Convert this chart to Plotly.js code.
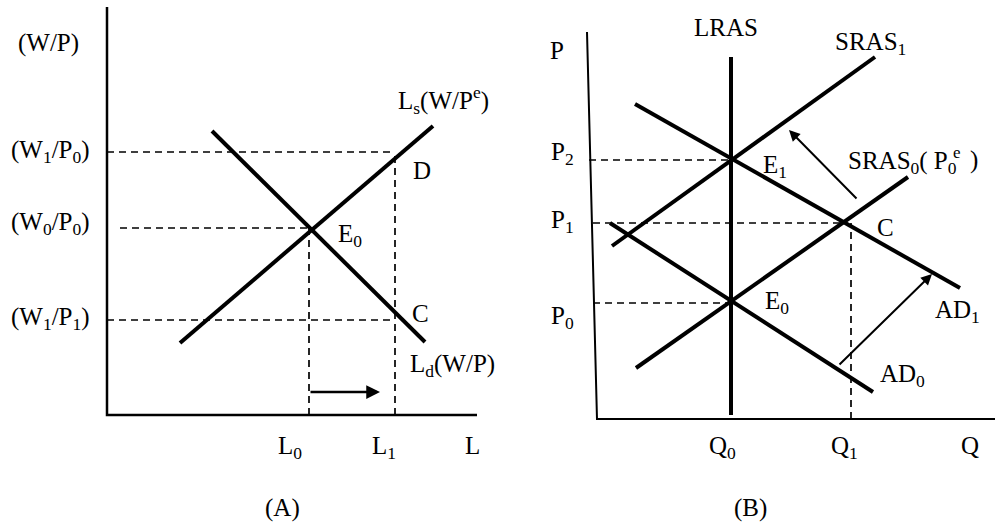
<!DOCTYPE html>
<html><head><meta charset="utf-8">
<script src="https://cdn.plot.ly/plotly-3.0.1.min.js"></script>
<style>html,body{margin:0;padding:0;background:#fff}</style>
</head><body><div id="chart" style="width:995px;height:523px"></div>
<script>
// ---------- Panel A: labour market (abstract diagram units) ----------
const aAxisX = [0, 0, 370];
const aAxisY = [408, 0, 0];
const aSupplyX = [73, 326];
const aSupplyY = [72, 289];
const aDemandX = [105, 318];
const aDemandY = [284, 73];
const aWageLevels = [263, 187, 95];      // (W1/P0), (W0/P0), (W1/P1)
const aWageFrom = [0, 13, 0];
const aWageTo = [288, 203, 288];
const aEmployment = [202, 288];          // L0, L1
const aEmployTop = [187, 263];
const aArrowX = [202, 273];
const aArrowY = [23, 23];
const aLabels = ["(W/P)", "(W<sub>1</sub>/P<sub>0</sub>)", "(W<sub>0</sub>/P<sub>0</sub>)", "(W<sub>1</sub>/P<sub>1</sub>)",
  "L<sub>s</sub>(W/P<sup>e</sup>)", "D", "E<sub>0</sub>", "C", "L<sub>d</sub>(W/P)",
  "L<sub>0</sub>", "L<sub>1</sub>", "L", "(A)"];
const aLabelX = [-59, -57, -57, -57, 336, 315, 243, 313, 345, 183, 277, 365, 175];
const aLabelY = [372, 264, 192, 97, 315, 245, 180, 102, 50, -32, -32, -30, -93];

// ---------- Panel B: AD-AS (abstract diagram units) ----------
const bAxisX = [-10, 0, 398];
const bAxisY = [387, 0, 0];
const bLRASX = [134, 134];
const bLRASY = [362, 4];
const bSRAS1X = [15, 278];
const bSRAS1Y = [173, 362];
const bSRAS0X = [39, 311];
const bSRAS0Y = [51, 242];
const bAD1X = [38, 363];
const bAD1Y = [315, 131];
const bAD0X = [13, 276];
const bAD0Y = [196, 27];
const bPriceLevels = [259, 196, 116];    // P2, P1, P0
const bPriceFrom = [-8, -4, -4];
const bPriceTo = [134, 246, 134];
const bQ1 = 254;
const bQ1Top = 196;
const bArrowSRASX = [261, 192];
const bArrowSRASY = [219, 289];
const bArrowADX = [241, 335];
const bArrowADY = [53, 145];
const bLabels = ["P", "P<sub>2</sub>", "P<sub>1</sub>", "P<sub>0</sub>", "LRAS", "SRAS<sub>1</sub>",
  "E<sub>1</sub>", "C", "E<sub>0</sub>", "AD<sub>1</sub>", "AD<sub>0</sub>",
  "Q<sub>0</sub>", "Q<sub>1</sub>", "Q", "(B)"];
const bLabelX = [-40, -35, -35, -35, 129, 273, 178, 288, 180, 360, 305, 125, 247, 373, 153];
const bLabelY = [369, 266, 198, 102, 392, 376, 253, 192, 117, 108, 44, -28, -28, -26, -89];
// SRAS0 label pieces: main text, closing bracket, stacked expectation superscript
const bSRAS0Label = ["SRAS<sub>0</sub>( P<sub>0</sub>", ")", "e"];
const bSRAS0LabelX = [249, 377, 360];
const bSRAS0LabelY = [257, 259, 267];

// ---------- build ----------
const FONT = "Liberation Serif, Times New Roman, serif";
const FS = 25;
function seg(xs, ys, xa, ya, width, dash) {
  return {x: xs, y: ys, xaxis: xa, yaxis: ya, mode: "lines", type: "scatter", hoverinfo: "skip",
    line: {color: "#000", width: width, dash: dash || "solid"}, showlegend: false};
}
function dashH(levels, from, to) {
  const xs = [], ys = [];
  levels.forEach((lv, i) => { xs.push(from[i], to[i], null); ys.push(lv, lv, null); });
  return [xs, ys];
}
function dashV(xsPos, tops) {
  const xs = [], ys = [];
  xsPos.forEach((xp, i) => { xs.push(xp, xp, null); ys.push(0, tops[i], null); });
  return [xs, ys];
}
const DASH = "7px,5px";
const aH = dashH(aWageLevels, aWageFrom, aWageTo);
const aV = dashV(aEmployment, aEmployTop);
const bH = dashH(bPriceLevels, bPriceFrom, bPriceTo);
const bV = dashV([bQ1], [bQ1Top]);

const traces = [
  seg(aAxisX, aAxisY, "x", "y", 2.5),
  seg(aH[0], aH[1], "x", "y", 1.7, DASH),
  seg(aV[0], aV[1], "x", "y", 1.7, DASH),
  seg(aSupplyX, aSupplyY, "x", "y", 4),
  seg(aDemandX, aDemandY, "x", "y", 4),
  seg(bAxisX, bAxisY, "x2", "y2", 2),
  seg(bH[0], bH[1], "x2", "y2", 1.7, DASH),
  seg(bV[0], bV[1], "x2", "y2", 1.7, DASH),
  seg(bLRASX, bLRASY, "x2", "y2", 4),
  seg(bSRAS1X, bSRAS1Y, "x2", "y2", 4),
  seg(bSRAS0X, bSRAS0Y, "x2", "y2", 4),
  seg(bAD1X, bAD1Y, "x2", "y2", 4),
  seg(bAD0X, bAD0Y, "x2", "y2", 4)
];

const annotations = [];
function label(t, x, y, xr, yr, size, anchor) {
  return {text: t, x: x, y: y, xref: xr, yref: yr, showarrow: false,
    xanchor: anchor || "center", yanchor: "middle", font: {family: FONT, size: size, color: "#000"}};
}
aLabels.forEach((t, i) => annotations.push(label(t, aLabelX[i], aLabelY[i], "x", "y", FS)));
bLabels.forEach((t, i) => annotations.push(label(t, bLabelX[i], bLabelY[i], "x2", "y2", FS)));
annotations.push(label(bSRAS0Label[0], bSRAS0LabelX[0], bSRAS0LabelY[0], "x2", "y2", FS, "left"));
annotations.push(label(bSRAS0Label[1], bSRAS0LabelX[1], bSRAS0LabelY[1], "x2", "y2", FS));
annotations.push(label(bSRAS0Label[2], bSRAS0LabelX[2], bSRAS0LabelY[2], "x2", "y2", 17));
function arrow(xs, ys, xr, yr, w) {
  return {x: xs[1], y: ys[1], ax: xs[0], ay: ys[0], xref: xr, yref: yr, axref: xr, ayref: yr,
    text: "", showarrow: true, arrowhead: 2, arrowsize: 1.1, arrowwidth: w, arrowcolor: "#000"};
}
annotations.push(arrow(aArrowX, aArrowY, "x", "y", 2.5));
annotations.push(arrow(bArrowSRASX, bArrowSRASY, "x2", "y2", 2));
annotations.push(arrow(bArrowADX, bArrowADY, "x2", "y2", 2));

const hidden = {visible: false, fixedrange: true};
const layout = {
  width: 995, height: 523, margin: {l: 0, r: 0, t: 0, b: 0},
  paper_bgcolor: "#fff", plot_bgcolor: "rgba(0,0,0,0)", showlegend: false,
  xaxis: Object.assign({domain: [0, 500/995], range: [-107, 393]}, hidden),
  yaxis: Object.assign({domain: [0, 1], range: [-108, 415]}, hidden),
  xaxis2: Object.assign({domain: [500/995, 1], range: [-97, 398]}, hidden),
  yaxis2: Object.assign({domain: [0, 1], range: [-104, 419]}, hidden),
  annotations: annotations
};
Plotly.newPlot("chart", traces, layout, {staticPlot: true, displayModeBar: false});
</script></body></html>
